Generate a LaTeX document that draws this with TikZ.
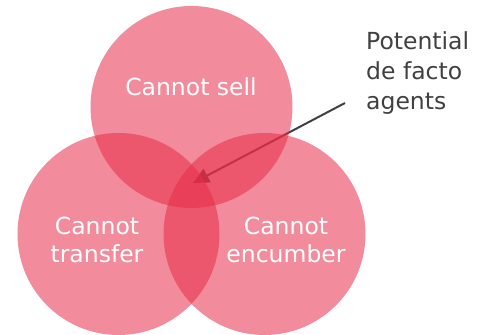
\documentclass[tikz,border=0pt]{standalone}
\usepackage{fontspec}
\setmainfont{DejaVu Sans}
\definecolor{crimson1}{RGB}{231, 44, 73}
\definecolor{gray1}{RGB}{64, 64, 64}
\usepackage{tikz}
\usetikzlibrary{arrows.meta, positioning}

\begin{document}
\begin{tikzpicture}[x=1pt, y=1pt,
  setcircle/.style={circle, fill=crimson1, fill opacity=0.55, minimum size=202pt, inner sep=0pt},
  setlabel/.style={text=white, font=\fontsize{23.5}{28}\selectfont, align=center},
  notelabel/.style={text=gray1, font=\fontsize{23.5}{30}\selectfont, align=left}]
  \useasboundingbox (0,0) rectangle (488,335);
  % pointer sits under the circles
  \node[notelabel, anchor=north west, inner sep=0pt] (agents) at (366,304) {Potential\\de facto\\agents};
  \coordinate (tail) at (345,232);
  \coordinate (core) at (193,152);
  \draw[gray1, line width=2pt, -{Triangle[length=16pt, width=15pt]}] (tail) -- (core);
  % the three sets
  \node[setcircle] (sell) at (191.5,228) {};
  \node[setcircle] (transfer) at (118.5,101) {};
  \node[setcircle] (encumber) at (264.5,101) {};
  \node[setlabel] (selltext) at (191,248) {Cannot sell};
  \node[setlabel] (transfertext) at (97,95) {Cannot\\transfer};
  \node[setlabel] (encumbertext) at (286,95) {Cannot\\encumber};
\end{tikzpicture}
\end{document}
